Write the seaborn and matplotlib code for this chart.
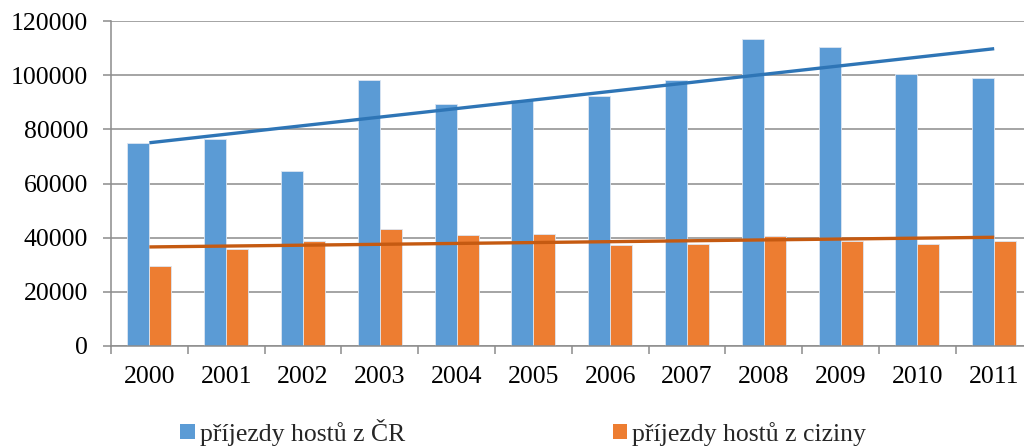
import numpy as np
import pandas as pd
import matplotlib
matplotlib.use("Agg")
import matplotlib.pyplot as plt
from matplotlib.patches import Patch
import seaborn as sns

years = ["2000", "2001", "2002", "2003", "2004", "2005",
         "2006", "2007", "2008", "2009", "2010", "2011"]
domestic = [75000, 76600, 64600, 98300, 89500, 90900,
            92400, 98300, 113400, 110500, 100300, 99100]
foreign = [29500, 35700, 38800, 43100, 41000, 41400,
           37300, 37700, 40700, 38700, 37600, 38800]
series_names = ["příjezdy hostů z ČR", "příjezdy hostů z ciziny"]
bar_colors = ["#5B9BD5", "#ED7D31"]
trend_colors = ["#2E75B6", "#C55A11"]
y_ticks = [0, 20000, 40000, 60000, 80000, 100000, 120000]

df = pd.DataFrame({
    "rok": years * 2,
    "hodnota": domestic + foreign,
    "serie": [series_names[0]] * len(years) + [series_names[1]] * len(years),
})

sns.set_theme(style="white")
plt.rcParams["font.family"] = ["Liberation Serif", "DejaVu Serif"]
FS = 18.5

fig = plt.figure(figsize=(10.24, 4.47), dpi=100)
ax = fig.add_axes([111 / 1024, 1 - 346 / 447, 921.6 / 1024, 325 / 447])

sns.barplot(data=df, x="rok", y="hodnota", hue="serie", order=years,
            hue_order=series_names, palette=bar_colors, width=0.573,
            saturation=1, edgecolor="#DCE6F2", linewidth=0.6, ax=ax,
            legend=False)

# linear trend lines for both series
xs = np.arange(len(years))
for vals, col in zip([domestic, foreign], trend_colors):
    k, q = np.polyfit(xs, vals, 1)
    ax.plot([xs[0], xs[-1]], [q + k * xs[0], q + k * xs[-1]],
            color=col, lw=2.4, solid_capstyle="butt", zorder=5)

ax.set_xlim(-0.5, len(years) - 0.5)
ax.set_ylim(0, 120000)
ax.set_yticks(y_ticks)
ax.set_yticklabels([str(v) for v in y_ticks])
ax.yaxis.grid(True, color="#8C8C8C", lw=1.1)
ax.set_axisbelow(True)
ax.set_xlabel("")
ax.set_ylabel("")

for side in ["top", "right"]:
    ax.spines[side].set_visible(False)
for side in ["left", "bottom"]:
    ax.spines[side].set_color("#8C8C8C")
    ax.spines[side].set_linewidth(1.1)

ax.set_xticks(xs)
ax.set_xticklabels(years)
ax.set_xticks(np.arange(-0.5, len(years), 1.0), minor=True)
ax.tick_params(axis="x", which="major", length=0, pad=14.5, labelsize=FS,
               colors="black")
ax.tick_params(axis="x", which="minor", length=6, width=1.1,
               color="#8C8C8C", bottom=True)
ax.tick_params(axis="y", length=5.8, width=1.1, color="#8C8C8C", left=True,
               pad=10.5, labelsize=FS, labelcolor="black")

handles = [Patch(facecolor=c, edgecolor="none") for c in bar_colors]
fig.legend(handles, series_names, loc="center", bbox_to_anchor=(0.511, 0.033),
           ncol=2, frameon=False, fontsize=FS, handlelength=0.55,
           handleheight=0.55, handletextpad=0.2, columnspacing=8.1,
           borderpad=0)

fig.savefig("out.png", dpi=100)
